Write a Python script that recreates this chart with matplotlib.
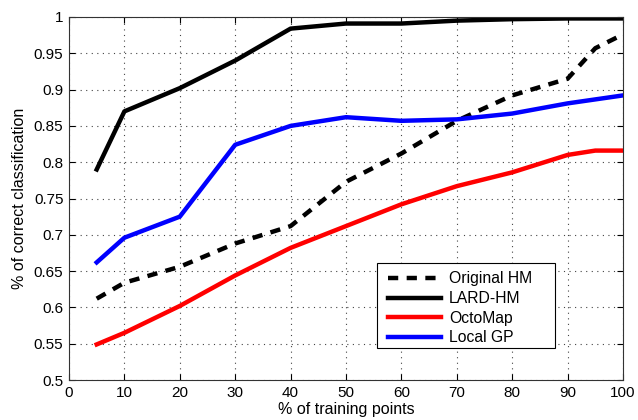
import matplotlib
matplotlib.use("Agg")
import matplotlib.pyplot as plt
from matplotlib.patches import Rectangle

plt.rcParams['font.family'] = ['Liberation Sans', 'DejaVu Sans']

x_orig = [5, 10, 20, 30, 40, 50, 60, 70, 80, 90, 95, 100]
y_orig = [0.612, 0.634, 0.656, 0.688, 0.712, 0.773, 0.812, 0.857, 0.892, 0.915, 0.957, 0.976]

x_lard = [5, 10, 20, 30, 40, 50, 60, 70, 80, 90, 100]
y_lard = [0.790, 0.870, 0.902, 0.940, 0.984, 0.991, 0.991, 0.995, 0.997, 0.998, 0.998]

x_octo = [5, 10, 20, 30, 40, 50, 60, 70, 80, 90, 95, 100]
y_octo = [0.549, 0.565, 0.602, 0.644, 0.682, 0.712, 0.742, 0.767, 0.786, 0.810, 0.816, 0.816]

x_gp = [5, 10, 20, 30, 40, 50, 60, 70, 80, 90, 100]
y_gp = [0.662, 0.696, 0.725, 0.824, 0.850, 0.862, 0.857, 0.859, 0.867, 0.881, 0.892]

xticks = [0, 10, 20, 30, 40, 50, 60, 70, 80, 90, 100]
yticks = [0.5, 0.55, 0.6, 0.65, 0.7, 0.75, 0.8, 0.85, 0.9, 0.95, 1.0]
ytick_labels = ['0.5', '0.55', '0.6', '0.65', '0.7', '0.75', '0.8', '0.85', '0.9', '0.95', '1']

W, H = 638, 420
fig = plt.figure(figsize=(W/100, H/100), dpi=100)
ax = fig.add_axes([69/W, 1-380/H, (623-69)/W, (380-17)/H])

lw = 3.2
ax.plot(x_orig, y_orig, color='black', lw=lw, linestyle=(0, (2.3, 1.9)), label='Original HM')
ax.plot(x_lard, y_lard, color='black', lw=lw, label='LARD-HM')
ax.plot(x_octo, y_octo, color='#ff0000', lw=lw, label='OctoMap')
ax.plot(x_gp, y_gp, color='#0000ff', lw=lw, label='Local GP')

ax.set_xlim(0, 100)
ax.set_ylim(0.5, 1.0)
ax.set_xticks(xticks)
ax.set_yticks(yticks)
ax.set_yticklabels(ytick_labels)
ax.tick_params(direction='in', top=True, right=True, labelsize=11, length=4, width=0.8, pad=4)
ax.grid(True, linestyle=(0, (1, 4)), color='#444444', linewidth=0.8)
for s in ax.spines.values():
    s.set_linewidth(0.8)
    s.set_color('#333333')

ax.set_xlabel('% of training points', fontsize=11.5, labelpad=1.5)
ax.set_ylabel('% of correct classification', fontsize=11.5, labelpad=5)

# legend box (MATLAB-style wide frame)
frame = Rectangle((377/W, 1-348/H), (555-377)/W, (348-263)/H, transform=fig.transFigure,
                  facecolor='white', edgecolor='black', linewidth=0.8, zorder=4)
fig.patches.append(frame)

leg = fig.legend(*ax.get_legend_handles_labels(), loc='upper left',
                 bbox_to_anchor=(388/W, 1-271.5/H), bbox_transform=fig.transFigure,
                 fontsize=11.3, frameon=False,
                 handlelength=3.4, borderpad=0, labelspacing=0.29, handletextpad=0.5,
                 borderaxespad=0)
leg.set_zorder(5)

fig.savefig('out.png', dpi=100)
